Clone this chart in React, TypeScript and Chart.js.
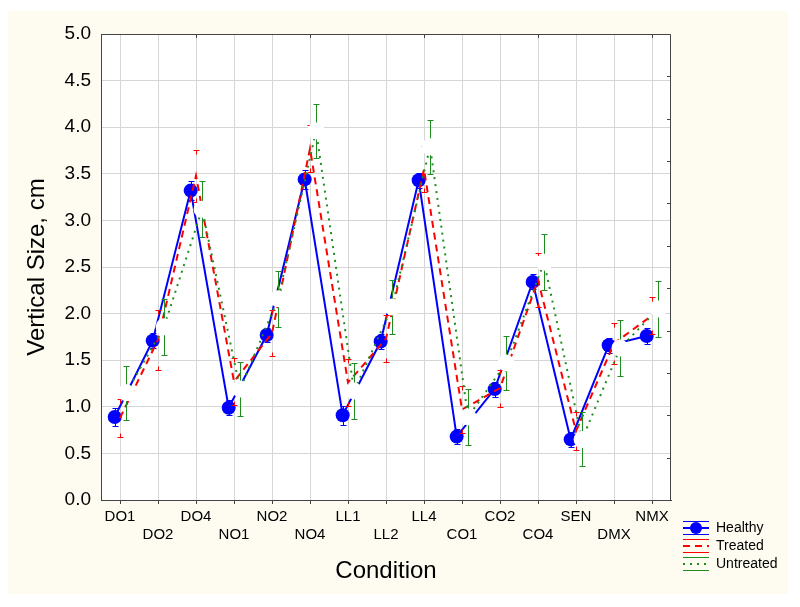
import React, { useEffect, useRef } from 'react';
import { Chart, registerables } from 'chart.js';

Chart.register(...registerables);

// ---- data ----
const categories = ['DO1', 'DO2', 'DO4', 'NO1', 'NO2', 'NO4', 'LL1', 'LL2', 'LL4', 'CO1', 'CO2', 'CO4', 'SEN', 'DMX', 'NMX'];
const seriesLabels = ['Healthy', 'Treated', 'Untreated'];
const healthy = [0.89, 1.71, 3.32, 0.99, 1.77, 3.44, 0.91, 1.70, 3.43, 0.68, 1.19, 2.34, 0.65, 1.66, 1.76];
const healthyErr = [0.1, 0.08, 0.1, 0.08, 0.08, 0.1, 0.1, 0.08, 0.08, 0.08, 0.08, 0.08, 0.08, 0.08, 0.09];
const treated = [0.88, 1.72, 3.48, 1.27, 1.79, 3.77, 1.26, 1.73, 3.55, 0.97, 1.20, 2.36, 0.74, 1.68, 1.98];
const treatedErr = [0.2, 0.32, 0.28, 0.25, 0.25, 0.25, 0.25, 0.25, 0.25, 0.25, 0.2, 0.29, 0.2, 0.22, 0.2];
const untreated = [1.15, 1.86, 3.12, 1.19, 2.16, 3.96, 1.17, 2.07, 3.79, 0.89, 1.47, 2.55, 0.65, 1.63, 2.05];
const untreatedErr = [0.29, 0.3, 0.3, 0.29, 0.3, 0.29, 0.3, 0.29, 0.29, 0.3, 0.29, 0.3, 0.29, 0.3, 0.3];
const yTicks = [0, 0.5, 1, 1.5, 2, 2.5, 3, 3.5, 4, 4.5, 5];

const FONT = "'Liberation Sans', Arial, Helvetica, sans-serif";
const BLUE = '#0000ff';
const RED = '#ff0000';
const GREEN = '#1e8c1e';
const seriesColors = [BLUE, RED, GREEN];
const seriesDash = [[], [7, 5], [2, 5]];
const xShift = [-0.14, 0, 0.16];
const errorSets = [healthyErr, treatedErr, untreatedErr];
// whisker stub length in px (null = full bar)
const whiskerStub: (number | null)[] = [null, 4, null];

const toPoints = (vals: number[], shift: number) => vals.map((v, i) => ({ x: i + shift, y: v }));

const errorBarPlugin = {
  id: 'errorBars',
  beforeDatasetDraw(chart: any, args: any) {
    const i = args.index;
    const errs = errorSets[i];
    const ds = chart.data.datasets[i];
    const ys = chart.scales.y;
    const ctx = chart.ctx;
    const stub = whiskerStub[i];
    ctx.save();
    ctx.strokeStyle = seriesColors[i];
    ctx.lineWidth = 1;
    ctx.setLineDash([]);
    args.meta.data.forEach((pt: any, j: number) => {
      const v = ds.data[j].y;
      const e = errs[j];
      const x = Math.round(pt.x) + 0.5;
      const y1 = Math.round(ys.getPixelForValue(v + e)) + 0.5;
      const y2 = Math.round(ys.getPixelForValue(v - e)) + 0.5;
      ctx.beginPath();
      if (stub == null) {
        ctx.moveTo(x, y1);
        ctx.lineTo(x, y2);
      } else {
        ctx.moveTo(x, y1);
        ctx.lineTo(x, y1 + stub);
        ctx.moveTo(x, y2);
        ctx.lineTo(x, y2 - stub);
      }
      ctx.moveTo(x - 3, y1);
      ctx.lineTo(x + 3, y1);
      ctx.moveTo(x - 3, y2);
      ctx.lineTo(x + 3, y2);
      ctx.stroke();
    });
    ctx.restore();
  },
};

const framePlugin = {
  id: 'frame',
  beforeDraw(chart: any) {
    const { ctx, chartArea: a } = chart;
    ctx.save();
    ctx.fillStyle = '#ffffff';
    ctx.fillRect(a.left, a.top, a.right - a.left, a.bottom - a.top);
    ctx.restore();
  },
  afterDraw(chart: any) {
    const { ctx, chartArea: a } = chart;
    ctx.save();
    ctx.strokeStyle = '#444444';
    ctx.lineWidth = 1;
    ctx.setLineDash([]);
    ctx.beginPath();
    ctx.moveTo(a.left + 0.5, a.top + 0.5);
    ctx.lineTo(a.right - 0.5, a.top + 0.5);
    ctx.lineTo(a.right - 0.5, a.bottom);
    ctx.stroke();
    // inward tick marks on the right border (secondary scale with 11 divisions)
    const n = 11;
    ctx.beginPath();
    for (let k = 1; k < n; k++) {
      const y = Math.round(a.bottom - (k * (a.bottom - a.top)) / n) + 0.5;
      ctx.moveTo(a.right - 4, y);
      ctx.lineTo(a.right, y);
    }
    // inward tick marks on the top border
    const xs = chart.scales.x;
    categories.forEach((_, i) => {
      if (i % 3 === 2) {
        const x = Math.round(xs.getPixelForValue(i)) + 0.5;
        ctx.moveTo(x, a.top);
        ctx.lineTo(x, a.top + 4);
      }
    });
    ctx.stroke();

    // legend
    const x0 = a.right + 12;
    const x1 = x0 + 26;
    const tx = x1 + 7;
    ctx.font = `14px ${FONT}`;
    ctx.textBaseline = 'middle';
    ctx.textAlign = 'left';
    seriesLabels.forEach((label, k) => {
      const cy = a.bottom + 28 + k * 18;
      ctx.strokeStyle = seriesColors[k];
      ctx.lineWidth = 1;
      ctx.setLineDash([]);
      ctx.beginPath();
      ctx.moveTo(x0, cy - 6.5);
      ctx.lineTo(x1, cy - 6.5);
      ctx.moveTo(x0, cy + 6.5);
      ctx.lineTo(x1, cy + 6.5);
      ctx.stroke();
      ctx.lineWidth = 2;
      ctx.setLineDash(seriesDash[k]);
      ctx.beginPath();
      ctx.moveTo(x0, cy);
      ctx.lineTo(x1, cy);
      ctx.stroke();
      ctx.setLineDash([]);
      if (k === 0) {
        ctx.fillStyle = BLUE;
        ctx.beginPath();
        ctx.arc((x0 + x1) / 2, cy, 6, 0, Math.PI * 2);
        ctx.fill();
      }
      ctx.fillStyle = '#000000';
      ctx.fillText(label, tx, cy);
    });
    ctx.restore();
  },
};

export default function App() {
  const ref = useRef<HTMLCanvasElement | null>(null);

  useEffect(() => {
    if (!ref.current) return;
    const chart = new Chart(ref.current, {
      type: 'line',
      data: {
        datasets: [
          {
            label: seriesLabels[0],
            data: toPoints(healthy, xShift[0]),
            borderColor: BLUE,
            borderWidth: 2,
            backgroundColor: BLUE,
            pointRadius: 7,
            pointBackgroundColor: BLUE,
            pointBorderColor: BLUE,
            pointBorderWidth: 0,
            tension: 0,
            order: 3,
          },
          {
            label: seriesLabels[1],
            data: toPoints(treated, xShift[1]),
            borderColor: RED,
            borderWidth: 2,
            borderDash: seriesDash[1],
            pointRadius: 0,
            tension: 0,
            order: 2,
          },
          {
            label: seriesLabels[2],
            data: toPoints(untreated, xShift[2]),
            borderColor: GREEN,
            borderWidth: 2,
            borderDash: seriesDash[2],
            pointRadius: 8.5,
            pointBackgroundColor: '#ffffff',
            pointBorderColor: '#ffffff',
            pointBorderWidth: 0,
            tension: 0,
            order: 1,
          },
        ],
      },
      options: {
        responsive: false,
        animation: false,
        devicePixelRatio: 1,
        layout: { padding: { top: 23, right: 117, left: 0, bottom: 0 } },
        plugins: { legend: { display: false }, tooltip: { enabled: false } },
        scales: {
          x: {
            type: 'linear',
            min: -0.5,
            max: 14.5,
            afterBuildTicks: (s: any) => {
              s.ticks = categories.map((_, i) => ({ value: i }));
            },
            afterFit: (s: any) => {
              s.height = 97;
            },
            grid: { color: '#d6d6d6', tickColor: '#444444', tickLength: 4, drawTicks: true },
            border: { color: '#444444' },
            ticks: {
              autoSkip: false,
              maxRotation: 0,
              padding: 3,
              color: '#000000',
              font: { family: FONT, size: 15, lineHeight: 1.25 },
              callback: (v: any) => {
                const i = Math.round(Number(v));
                const lab = categories[i] ?? '';
                return i % 2 ? ['', lab] : lab;
              },
            },
            title: {
              display: true,
              text: 'Condition',
              color: '#000000',
              font: { family: FONT, size: 24 },
              padding: { top: 0, bottom: 11 },
            },
          },
          y: {
            type: 'linear',
            min: 0,
            max: 5,
            afterBuildTicks: (s: any) => {
              s.ticks = yTicks.map((v) => ({ value: v }));
            },
            afterFit: (s: any) => {
              s.width = 93;
            },
            grid: { color: '#d6d6d6', drawTicks: false },
            border: { color: '#444444' },
            ticks: {
              padding: 10,
              color: '#000000',
              font: { family: FONT, size: 19 },
              callback: (v: any) => Number(v).toFixed(1),
            },
            title: {
              display: true,
              text: 'Vertical Size, cm',
              color: '#000000',
              font: { family: FONT, size: 24 },
              padding: { top: 15, bottom: 0 },
            },
          },
        },
      },
      plugins: [errorBarPlugin, framePlugin],
    } as any);
    return () => chart.destroy();
  }, []);

  return (
    <div style={{ position: 'relative', top: 3, width: 780, height: 586, background: '#fefcf1' }}>
      <canvas ref={ref} width={780} height={586} style={{ display: 'block' }} />
    </div>
  );
}
